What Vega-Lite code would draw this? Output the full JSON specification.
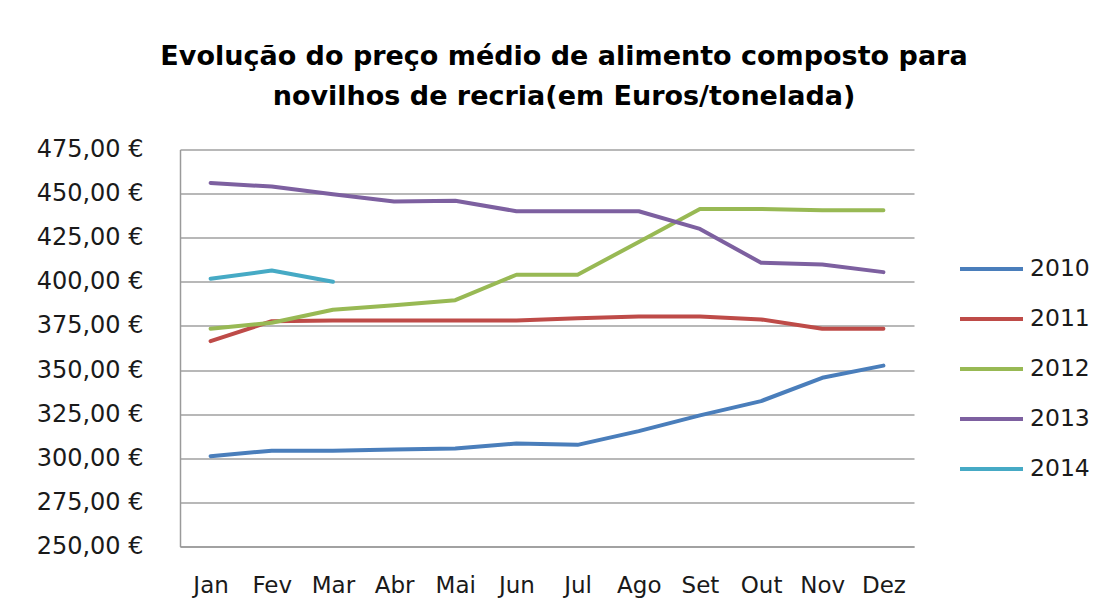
{
  "$schema": "https://vega.github.io/schema/vega-lite/v6.json",
  "width": 734,
  "height": 397,
  "autosize": {"type": "none"},
  "padding": {"left": 180, "top": 149.5, "right": 195, "bottom": 63.5},
  "background": "white",
  "title": {
    "text": ["Evolução do preço médio de alimento composto para", "novilhos de recria(em Euros/tonelada)"],
    "font": "DejaVu Sans",
    "fontSize": 27,
    "fontWeight": "bold",
    "color": "#000000",
    "anchor": "middle",
    "frame": "group",
    "dx": 17,
    "offset": 27,
    "lineHeight": 40
  },
  "config": {
    "view": {"stroke": null},
    "font": "DejaVu Sans"
  },
  "data": {
    "values": [
      {"mes": "Jan", "ano": "2010", "preco": 301.2},
      {"mes": "Fev", "ano": "2010", "preco": 304.3},
      {"mes": "Mar", "ano": "2010", "preco": 304.3},
      {"mes": "Abr", "ano": "2010", "preco": 305.0},
      {"mes": "Mai", "ano": "2010", "preco": 305.5},
      {"mes": "Jun", "ano": "2010", "preco": 308.4},
      {"mes": "Jul", "ano": "2010", "preco": 307.6},
      {"mes": "Ago", "ano": "2010", "preco": 315.4},
      {"mes": "Set", "ano": "2010", "preco": 324.3},
      {"mes": "Out", "ano": "2010", "preco": 332.4},
      {"mes": "Nov", "ano": "2010", "preco": 345.6},
      {"mes": "Dez", "ano": "2010", "preco": 352.5},
      {"mes": "Jan", "ano": "2011", "preco": 366.4},
      {"mes": "Fev", "ano": "2011", "preco": 377.7},
      {"mes": "Mar", "ano": "2011", "preco": 378.1},
      {"mes": "Abr", "ano": "2011", "preco": 378.1},
      {"mes": "Mai", "ano": "2011", "preco": 378.1},
      {"mes": "Jun", "ano": "2011", "preco": 378.1},
      {"mes": "Jul", "ano": "2011", "preco": 379.4},
      {"mes": "Ago", "ano": "2011", "preco": 380.4},
      {"mes": "Set", "ano": "2011", "preco": 380.4},
      {"mes": "Out", "ano": "2011", "preco": 378.7},
      {"mes": "Nov", "ano": "2011", "preco": 373.4},
      {"mes": "Dez", "ano": "2011", "preco": 373.4},
      {"mes": "Jan", "ano": "2012", "preco": 373.4},
      {"mes": "Fev", "ano": "2012", "preco": 376.8},
      {"mes": "Mar", "ano": "2012", "preco": 384.2},
      {"mes": "Abr", "ano": "2012", "preco": 386.7},
      {"mes": "Mai", "ano": "2012", "preco": 389.6},
      {"mes": "Jun", "ano": "2012", "preco": 404.0},
      {"mes": "Jul", "ano": "2012", "preco": 404.0},
      {"mes": "Ago", "ano": "2012", "preco": 422.6},
      {"mes": "Set", "ano": "2012", "preco": 441.3},
      {"mes": "Out", "ano": "2012", "preco": 441.3},
      {"mes": "Nov", "ano": "2012", "preco": 440.5},
      {"mes": "Dez", "ano": "2012", "preco": 440.5},
      {"mes": "Jan", "ano": "2013", "preco": 456.0},
      {"mes": "Fev", "ano": "2013", "preco": 454.0},
      {"mes": "Mar", "ano": "2013", "preco": 449.6},
      {"mes": "Abr", "ano": "2013", "preco": 445.5},
      {"mes": "Mai", "ano": "2013", "preco": 446.0},
      {"mes": "Jun", "ano": "2013", "preco": 440.0},
      {"mes": "Jul", "ano": "2013", "preco": 440.0},
      {"mes": "Ago", "ano": "2013", "preco": 440.0},
      {"mes": "Set", "ano": "2013", "preco": 430.0},
      {"mes": "Out", "ano": "2013", "preco": 410.8},
      {"mes": "Nov", "ano": "2013", "preco": 409.8},
      {"mes": "Dez", "ano": "2013", "preco": 405.5},
      {"mes": "Jan", "ano": "2014", "preco": 401.7},
      {"mes": "Fev", "ano": "2014", "preco": 406.4},
      {"mes": "Mar", "ano": "2014", "preco": 400.0}
    ]
  },
  "mark": {"type": "line", "strokeWidth": 4, "strokeCap": "round", "strokeJoin": "round"},
  "encoding": {
    "x": {
      "field": "mes",
      "type": "ordinal",
      "sort": ["Jan", "Fev", "Mar", "Abr", "Mai", "Jun", "Jul", "Ago", "Set", "Out", "Nov", "Dez"],
      "scale": {"type": "point", "padding": 0.5},
      "axis": {
        "title": null,
        "labelAngle": 0,
        "labelFontSize": 23,
        "labelColor": "#1a1a1a",
        "labelPadding": 28,
        "ticks": false,
        "domainColor": "#9a9a9a",
        "domainWidth": 1.5,
        "grid": false
      }
    },
    "y": {
      "field": "preco",
      "type": "quantitative",
      "scale": {"domain": [250, 475], "nice": false, "zero": false},
      "axis": {
        "title": null,
        "values": [250, 275, 300, 325, 350, 375, 400, 425, 450, 475],
        "labelExpr": "replace(format(datum.value, '.2f'), '.', ',') + ' €'",
        "labelFontSize": 24,
        "labelColor": "#1a1a1a",
        "labelPadding": 37,
        "ticks": false,
        "domainColor": "#9a9a9a",
        "domainWidth": 1.5,
        "gridColor": "#a0a0a0",
        "gridWidth": 1.5
      }
    },
    "color": {
      "field": "ano",
      "type": "nominal",
      "scale": {
        "domain": ["2010", "2011", "2012", "2013", "2014"],
        "range": ["#4A7EBB", "#BE4B48", "#98B954", "#7D60A0", "#46AAC5"]
      },
      "legend": {
        "title": null,
        "orient": "none",
        "legendX": 778,
        "legendY": 86,
        "padding": 0,
        "symbolType": "stroke",
        "symbolSize": 3969,
        "symbolStrokeWidth": 4,
        "labelFontSize": 23.5,
        "labelColor": "#1a1a1a",
        "labelOffset": 5,
        "rowPadding": 5
      }
    }
  }
}
